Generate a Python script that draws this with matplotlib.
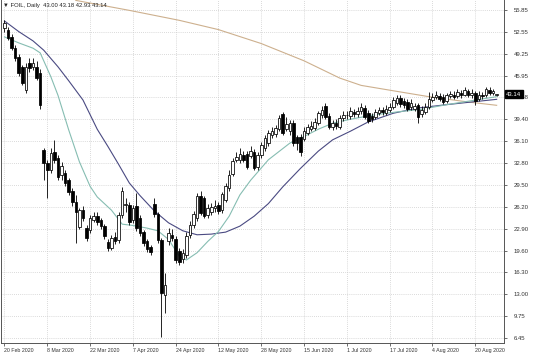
import numpy as np
import matplotlib
matplotlib.use("Agg")
import matplotlib.pyplot as plt
import matplotlib.transforms as mtransforms

plt.rcParams['font.family'] = ['Liberation Sans', 'DejaVu Sans']

# ---------------- data ----------------
opens = [53.1, 52.8, 51.8, 50.1, 48.8, 47.3, 43.8, 47.8, 47.3, 47.3,
         46.4, 34.8, 32.8, 31.8, 34.5, 33.6, 31.0, 31.3, 30.2, 28.6,
         27.0, 23.2, 25.7, 23.0, 22.7, 24.2, 24.9, 24.2, 23.3, 20.9,
         20.0, 21.6, 21.2, 25.0, 26.5, 26.5, 24.2, 26.3, 24.6, 22.4,
         21.0, 20.2, 26.7, 25.1, 21.2, 12.9, 21.0, 22.0, 21.4, 19.6,
         18.3, 18.9, 21.9, 23.4, 24.5, 27.8, 27.5, 25.0, 25.4, 26.0,
         26.5, 25.7, 27.2, 29.0, 31.2, 33.3, 33.3, 34.0, 34.2, 33.9,
         34.4, 32.2, 34.0, 35.0, 35.8, 37.0, 37.2, 37.9, 40.2, 38.0,
         37.6, 38.9, 36.7, 36.7, 36.5, 37.4, 38.0, 38.1, 38.8, 40.0,
         41.4, 39.9, 38.2, 38.8, 38.2, 39.6, 40.1, 39.9, 40.5, 40.2,
         40.6, 41.1, 40.3, 39.9, 39.8, 40.4, 40.8, 40.4, 40.8, 41.3,
         41.9, 42.6, 42.2, 42.0, 41.2, 40.9, 41.5, 40.2, 40.5, 41.3,
         42.3, 42.7, 42.9, 42.8, 42.1, 42.9, 43.1, 42.9, 43.4, 43.1,
         43.6, 43.1, 43.3, 42.4, 43.0, 43.0, 43.8, 43.4, 43.00]
highs = [54.4, 53.3, 52.2, 50.6, 49.2, 47.6, 47.9, 48.6, 48.6, 48.2,
         46.9, 35.1, 33.2, 35.0, 36.3, 34.0, 33.0, 31.8, 30.6, 29.0,
         28.0, 26.0, 26.4, 23.5, 25.0, 25.5, 25.5, 24.6, 23.6, 21.3,
         22.0, 22.4, 25.5, 29.2, 27.5, 27.0, 26.5, 28.3, 25.0, 22.7,
         21.3, 20.5, 27.5, 25.4, 21.5, 16.2, 23.0, 22.8, 21.8, 20.0,
         19.9, 22.4, 24.0, 25.6, 28.3, 28.6, 27.8, 26.6, 26.8, 27.2,
         27.0, 28.5, 29.8, 31.8, 33.6, 34.5, 35.0, 34.6, 34.6, 35.4,
         34.9, 34.4, 36.0, 37.0, 37.8, 38.3, 38.6, 40.0, 40.5, 39.8,
         39.3, 39.3, 37.0, 37.2, 38.2, 38.7, 39.1, 39.6, 40.7, 41.4,
         41.8, 40.3, 39.3, 39.4, 40.1, 40.6, 40.7, 41.2, 41.0, 41.3,
         41.8, 41.5, 40.8, 40.3, 41.0, 41.3, 41.3, 41.5, 41.8, 42.8,
         43.0, 43.0, 42.6, 42.4, 42.4, 41.9, 41.9, 41.4, 41.8, 43.5,
         43.3, 43.7, 43.4, 43.2, 43.4, 43.7, 43.6, 44.0, 43.8, 44.3,
         44.0, 44.0, 43.7, 43.6, 43.5, 44.3, 44.2, 44.0, 43.18]
lows = [52.6, 51.3, 49.8, 48.1, 45.9, 44.5, 43.4, 46.5, 46.8, 45.3,
        40.9, 30.2, 27.6, 31.3, 32.8, 30.3, 30.3, 29.3, 28.0, 26.4,
        20.7, 22.8, 24.1, 21.0, 22.2, 23.9, 23.5, 22.9, 21.4, 19.5,
        19.7, 20.6, 20.8, 24.6, 25.5, 23.5, 23.7, 22.6, 21.8, 20.3,
        19.4, 19.0, 24.7, 20.8, 6.6, 10.2, 20.4, 21.0, 17.8, 17.4,
        17.8, 18.5, 21.5, 23.0, 24.0, 25.0, 24.5, 24.6, 25.0, 25.5,
        25.2, 25.3, 26.9, 28.6, 30.8, 32.9, 32.8, 32.9, 31.9, 33.5,
        31.7, 31.8, 33.6, 34.6, 35.3, 36.6, 36.8, 37.6, 37.0, 37.6,
        37.1, 35.4, 34.8, 33.9, 36.1, 37.0, 37.6, 37.8, 38.5, 39.6,
        39.4, 37.9, 37.8, 37.9, 37.9, 39.2, 39.4, 39.5, 39.8, 39.8,
        40.2, 39.4, 38.9, 39.0, 39.5, 40.0, 40.1, 40.0, 40.5, 41.0,
        41.6, 41.3, 41.1, 40.6, 40.8, 40.6, 38.8, 39.8, 40.2, 41.0,
        42.0, 42.4, 42.1, 41.7, 41.8, 42.6, 42.5, 42.6, 42.6, 42.9,
        42.7, 42.6, 41.5, 42.1, 42.5, 42.8, 43.1, 43.1, 42.93]
closes = [53.9, 51.6, 50.1, 48.6, 46.4, 44.9, 47.2, 47.1, 47.9, 45.6,
          41.5, 32.8, 31.8, 34.3, 33.3, 30.7, 32.3, 29.8, 28.4, 26.9,
          25.5, 25.7, 24.6, 21.5, 24.5, 24.9, 23.9, 23.3, 21.8, 20.0,
          21.5, 21.0, 25.0, 28.6, 26.7, 23.9, 26.0, 23.0, 22.2, 20.8,
          19.8, 19.4, 25.1, 21.2, 13.2, 14.4, 22.3, 21.5, 18.2, 17.9,
          19.3, 21.8, 23.5, 25.2, 27.8, 25.3, 24.9, 26.0, 26.2, 26.3,
          25.6, 28.1, 29.4, 31.0, 33.1, 33.7, 34.2, 33.2, 32.2, 34.6,
          32.0, 34.0, 35.5, 36.6, 37.3, 37.6, 38.1, 39.6, 37.3, 38.7,
          38.9, 35.8, 35.8, 34.5, 37.7, 38.2, 38.4, 39.0, 40.3, 40.8,
          39.7, 38.2, 38.8, 38.4, 39.6, 40.1, 40.0, 40.6, 40.2, 40.7,
          41.2, 39.8, 39.2, 39.4, 40.5, 40.8, 40.5, 40.9, 41.2, 42.3,
          42.6, 41.7, 41.5, 41.0, 41.9, 41.4, 39.7, 40.8, 41.3, 42.5,
          42.8, 43.1, 42.4, 42.0, 43.0, 43.2, 42.8, 43.5, 43.0, 43.8,
          43.0, 43.4, 42.2, 43.1, 42.9, 43.9, 43.4, 43.6, 43.14]

# moving averages (bar index, value)
fast_ma_bars = [0, 4, 8, 10, 13, 15, 18, 21, 24, 26, 30, 33, 36, 40, 43, 46, 49, 51,
                54, 57, 60, 63, 66, 69, 74, 80, 84, 88, 92, 97, 103, 110, 117, 124, 131, 138]
fast_ma = [51.8, 50.9, 50.1, 49.4, 45.8, 43.0, 37.8, 33.0, 29.3, 27.7, 25.7, 23.6, 23.4,
           23.0, 22.6, 21.3, 18.8, 18.2, 19.3, 21.0, 22.5, 24.8, 28.0, 30.2, 33.3, 35.8,
           36.8, 37.9, 38.8, 39.4, 40.0, 40.5, 40.9, 41.6, 42.2, 42.8]
slow_ma_bars = [0, 4, 8, 11, 15, 18, 22, 26, 29, 32, 35, 38, 42, 46, 50, 54, 58, 62, 66,
                70, 74, 78, 83, 88, 92, 97, 102, 109, 116, 124, 131, 138]
slow_ma = [54.2, 52.6, 51.2, 49.8, 47.3, 45.2, 42.3, 37.9, 35.3, 32.6, 29.8, 27.9, 25.6,
           23.8, 22.6, 22.0, 22.1, 22.4, 23.3, 24.8, 26.7, 29.2, 32.0, 34.6, 36.3, 37.6,
           39.0, 40.3, 41.1, 41.6, 42.0, 42.4]
long_ma_bars = [20, 35, 49, 60, 72, 84, 94, 100, 110, 119, 130, 138]
long_ma = [57.3, 55.8, 54.3, 52.9, 50.8, 48.2, 45.6, 44.5, 43.6, 42.8, 42.0, 41.5]

date_labels = ["20 Feb 2020", "8 Mar 2020", "22 Mar 2020", "7 Apr 2020", "24 Apr 2020",
               "12 May 2020", "28 May 2020", "15 Jun 2020", "1 Jul 2020", "17 Jul 2020",
               "4 Aug 2020", "20 Aug 2020"]
price_labels = ["6.45", "9.75", "13.00", "16.30", "19.60", "22.90", "26.20", "29.50",
                "32.80", "36.10", "39.40", "42.68", "45.95", "49.25", "52.55", "55.85"]
title_text = "\u25bc FOIL, Daily  43.00 43.18 42.93 43.14"
last_price = "43.14"

# ---------------- figure ----------------
W, H = 536, 357
fig = plt.figure(figsize=(W / 100, H / 100), dpi=100)
ax = fig.add_axes([0.5 / W, 1 - 343 / H, 503.5 / W, 343 / H])

o = np.array(opens); h = np.array(highs); l = np.array(lows); c = np.array(closes)
x = np.arange(len(o))
up = c >= o

ax.vlines(x, l, h, color='black', linewidth=0.6, zorder=3)
body_bottom = np.minimum(o, c)
body_h = np.maximum(np.abs(c - o), 0.08)
ax.bar(x[up], body_h[up], bottom=body_bottom[up], width=0.72, color='white',
       edgecolor='black', linewidth=0.55, zorder=4)
ax.bar(x[~up], body_h[~up], bottom=body_bottom[~up], width=0.72, color='black',
       edgecolor='black', linewidth=0.55, zorder=4)

ax.plot(long_ma_bars, long_ma, color='#cdb08e', linewidth=0.8, zorder=2)
ax.plot(slow_ma_bars, slow_ma, color='#4a4a82', linewidth=0.8, zorder=2)
ax.plot(fast_ma_bars, fast_ma, color='#86bdb2', linewidth=0.8, zorder=2)

ax.set_xlim(-1.12, 140.06)
ax.set_ylim(5.70, 57.36)

yticks = np.linspace(6.45, 55.85, len(price_labels))
ax.set_yticks(yticks)
ax.set_yticklabels(price_labels)
ax.yaxis.tick_right()
xticks = np.arange(0, 12 * len(date_labels), 12)
ax.set_xticks(xticks)
ax.set_xticklabels(date_labels, ha='left')

ax.tick_params(axis='y', length=2, pad=5, labelsize=4.3, colors='#333333', width=0.5)
ax.tick_params(axis='x', length=2, pad=1.5, labelsize=3.8, colors='#333333', width=0.5)
for lab in ax.get_xticklabels():
    lab.set_horizontalalignment('left')

ax.grid(True, color='#c4c4c4', linestyle=(0, (1.2, 1.8)), linewidth=0.5, zorder=0)
ax.set_axisbelow(True)
for side in ['left', 'right', 'bottom']:
    ax.spines[side].set_color('#555555')
    ax.spines[side].set_linewidth(0.7)
ax.spines['top'].set_visible(False)

fig.text(3 / W, 1 - 6 / H, title_text, fontsize=4.2, va='center', ha='left', color='#222222')

trans = mtransforms.blended_transform_factory(ax.transAxes, ax.transData)
ax.text(1.004, float(last_price), last_price, transform=trans, fontsize=4.3, color='white',
        va='center', ha='left', zorder=10, clip_on=False,
        bbox=dict(boxstyle='square,pad=0.25', facecolor='black', edgecolor='black'))

fig.savefig('out.png', dpi=100, facecolor='white')
